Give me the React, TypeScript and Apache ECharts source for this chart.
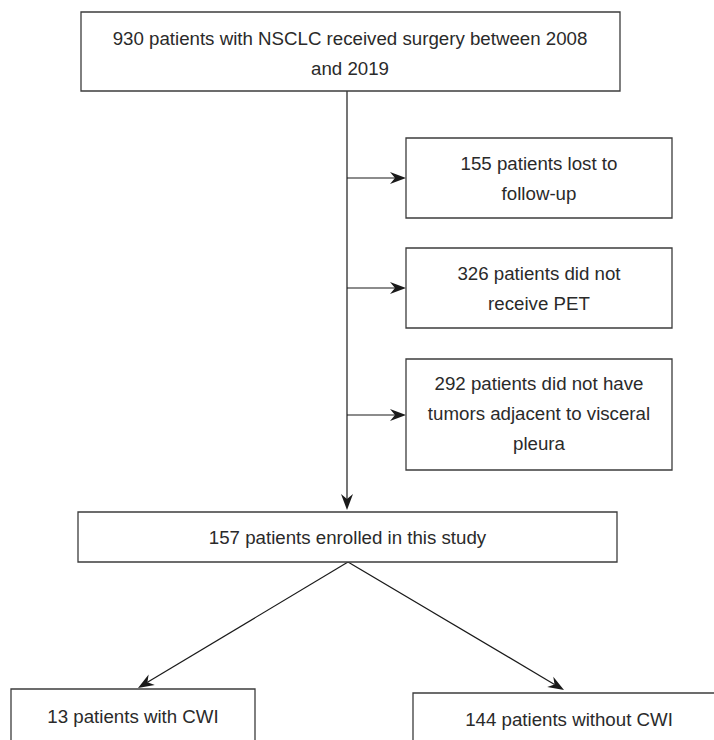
import React, { useEffect, useRef } from "react";
import * as echarts from "echarts";

// ---- content ----
const sourceLines: string[] = ["930 patients with NSCLC received surgery between 2008", "and 2019"];
const exclusionLines: string[][] = [
  ["155 patients lost to", "follow-up"],
  ["326 patients did not", "receive PET"],
  ["292 patients did not have", "tumors adjacent to visceral", "pleura"],
];
const enrolledLines: string[] = ["157 patients enrolled in this study"];
const groupLines: string[][] = [["13 patients with CWI"], ["144 patients without CWI"]];

// ---- layout (pixels) ----
const topBox = { x: 81, y: 12, w: 539, h: 79 };
const exclBoxes = [
  { x: 406, y: 138, w: 266, h: 80 },
  { x: 406, y: 248, w: 266, h: 80 },
  { x: 406, y: 359, w: 266, h: 111 },
];
const enrolledBox = { x: 78, y: 512, w: 539, h: 50 };
const groupBoxes = [
  { x: 11, y: 689, w: 244, h: 70 },
  { x: 413, y: 693, w: 312, h: 70 },
];
const spineX = 347;
const LINE_H = 30;
const FONT = 18.7;
const TEXT_COLOR = "#2a2a2a";
const BOX_COLOR = "#3c3c3c";
const ARROW_COLOR = "#1a1a1a";

function boxEls(b: { x: number; y: number; w: number; h: number }, lines: string[], textCy?: number, textCx?: number) {
  const els: any[] = [
    {
      type: "rect",
      shape: { x: b.x, y: b.y, width: b.w, height: b.h },
      style: { fill: "#fff", stroke: BOX_COLOR, lineWidth: 1.3 },
    },
  ];
  const cx = textCx ?? b.x + b.w / 2;
  const cy = textCy ?? b.y + b.h / 2;
  const n = lines.length;
  lines.forEach((t, i) => {
    els.push({
      type: "text",
      x: cx,
      y: cy + (i - (n - 1) / 2) * LINE_H,
      style: {
        text: t,
        fill: TEXT_COLOR,
        font: `${FONT}px "Liberation Sans", Arial, sans-serif`,
        align: "center",
        verticalAlign: "middle",
      },
    });
  });
  return els;
}

function arrowEls(x1: number, y1: number, x2: number, y2: number) {
  const dx = x2 - x1;
  const dy = y2 - y1;
  const len = Math.sqrt(dx * dx + dy * dy);
  const ux = dx / len;
  const uy = dy / len;
  const px = -uy;
  const py = ux;
  const L = 16;
  const W = 6;
  const notch = 5;
  const bx = x2 - ux * L;
  const by = y2 - uy * L;
  const nx = x2 - ux * (L - notch);
  const ny = y2 - uy * (L - notch);
  return [
    {
      type: "line",
      shape: { x1, y1, x2: nx, y2: ny },
      style: { stroke: ARROW_COLOR, lineWidth: 1.2 },
    },
    {
      type: "polygon",
      shape: {
        points: [
          [x2, y2],
          [bx + px * W, by + py * W],
          [nx, ny],
          [bx - px * W, by - py * W],
        ],
      },
      style: { fill: ARROW_COLOR },
    },
  ];
}

export default function App() {
  const ref = useRef<HTMLDivElement>(null);
  useEffect(() => {
    document.body.style.margin = "0";
    const chart = echarts.init(ref.current!, undefined, { renderer: "svg" });
    const els: any[] = [];
    // spine
    els.push(...arrowEls(spineX, topBox.y + topBox.h, spineX, enrolledBox.y - 2));
    // exclusion arrows
    const arrowYs = [178, 288, 415];
    exclBoxes.forEach((b, i) => {
      els.push(...arrowEls(spineX, arrowYs[i], b.x, arrowYs[i]));
    });
    // diagonals
    const apexX = 348;
    const apexY = enrolledBox.y + enrolledBox.h;
    els.push(...arrowEls(apexX, apexY, 138, groupBoxes[0].y - 1));
    els.push(...arrowEls(apexX, apexY, 564, groupBoxes[1].y - 3));
    // boxes
    els.push(...boxEls(topBox, sourceLines, 53, 350));
    exclBoxes.forEach((b, i) => {
      const n = exclusionLines[i].length;
      const cy = i === 2 ? 413 : b.y + 40;
      els.push(...boxEls(b, exclusionLines[i], cy));
    });
    els.push(...boxEls(enrolledBox, enrolledLines, 537));
    els.push(...boxEls(groupBoxes[0], groupLines[0], 716, 133));
    els.push(...boxEls(groupBoxes[1], groupLines[1], 719, 569));
    chart.setOption({
      animation: false,
      backgroundColor: "#fff",
      graphic: { elements: els },
    });
    return () => chart.dispose();
  }, []);
  return <div ref={ref} style={{ width: 714, height: 740, position: "absolute", left: 0, top: 0 }} />;
}
